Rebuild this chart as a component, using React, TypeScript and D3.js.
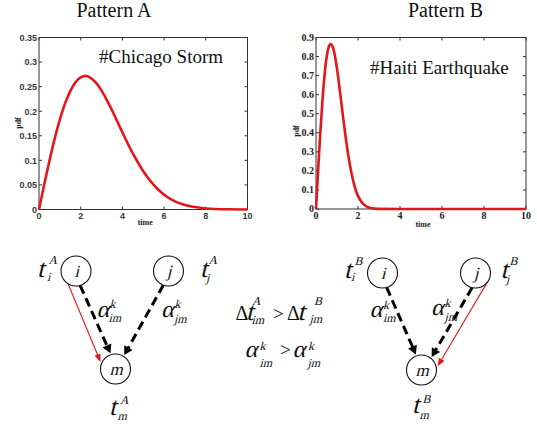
import React from "react";
import * as d3 from "d3";

// ---- Data ----
const titles = ["Pattern A", "Pattern B"];
const events = ["#Chicago Storm", "#Haiti Earthquake"];

const timeA = [0, 0.25, 0.5, 0.75, 1, 1.25, 1.5, 1.75, 2, 2.25, 2.5, 2.75, 3, 3.5, 4, 4.5, 5, 5.5, 6, 6.5, 7, 7.5, 8, 9, 10];
const pdfA = [0, 0.051, 0.099, 0.144, 0.183, 0.216, 0.241, 0.259, 0.269, 0.272, 0.267, 0.257, 0.242, 0.202, 0.157, 0.114, 0.078, 0.05, 0.03, 0.017, 0.009, 0.005, 0.002, 0.0004, 0.0001];

const timeB = [0, 0.1, 0.2, 0.3, 0.4, 0.5, 0.6, 0.7, 0.8, 0.9, 1.0, 1.1, 1.2, 1.3, 1.4, 1.5, 1.6, 1.7, 1.8, 1.9, 2.0, 2.2, 2.4, 2.6, 2.8, 3.0, 4, 10];
const pdfB = [0, 0.202, 0.392, 0.559, 0.694, 0.791, 0.848, 0.866, 0.85, 0.804, 0.736, 0.653, 0.564, 0.473, 0.387, 0.308, 0.24, 0.182, 0.135, 0.097, 0.069, 0.032, 0.014, 0.005, 0.002, 0.0006, 0, 0];

const xTicks = [0, 2, 4, 6, 8, 10];
const yTicksA = [0, 0.05, 0.1, 0.15, 0.2, 0.25, 0.3, 0.35];
const yTicksB = [0, 0.1, 0.2, 0.3, 0.4, 0.5, 0.6, 0.7, 0.8, 0.9];

// ---- Layout ----
const W = 537, H = 426;
const SERIF = "'Liberation Serif', 'Times New Roman', serif";
const SANS = "'Liberation Sans', Arial, sans-serif";
const RED = "#e4161b";

type PlotCfg = {
  x0: number; x1: number; y0: number; y1: number;
  ymax: number; yTicks: number[]; t: number[]; v: number[];
  tickFont: string; tickSize: number; tickFill: string;
  title: string; titleX: number; event: string; eventX: number; eventY: number;
  timeY: number; pdfX: number; pdfY: number; yFmt: (d: number) => string;
};

function Plot({ c }: { c: PlotCfg }) {
  const x = d3.scaleLinear().domain([0, 10]).range([c.x0, c.x1]);
  const y = d3.scaleLinear().domain([0, c.ymax]).range([c.y1, c.y0]);
  const line = d3.line<number>().x((_, i) => x(c.t[i])).y((d) => y(d)).curve(d3.curveMonotoneX);
  const tl = 3;
  return (
    <g>
      <text x={c.titleX} y={17} textAnchor="middle" fontFamily={SERIF} fontSize={20} fill="#111">{c.title}</text>
      <rect x={c.x0} y={c.y0} width={c.x1 - c.x0} height={c.y1 - c.y0} fill="#fff" stroke="#333" strokeWidth={1} />
      {xTicks.map((t) => (
        <g key={"x" + t}>
          <line x1={x(t)} x2={x(t)} y1={c.y1} y2={c.y1 - tl} stroke="#333" />
          <line x1={x(t)} x2={x(t)} y1={c.y0} y2={c.y0 + tl} stroke="#333" />
          <text x={x(t)} y={c.y1 + 9.5} textAnchor="middle" fontFamily={c.tickFont} fontWeight="bold" fontSize={c.tickSize} fill={c.tickFill}>{t}</text>
        </g>
      ))}
      {c.yTicks.map((t) => (
        <g key={"y" + t}>
          <line x1={c.x0} x2={c.x0 + tl} y1={y(t)} y2={y(t)} stroke="#333" />
          <line x1={c.x1} x2={c.x1 - tl} y1={y(t)} y2={y(t)} stroke="#333" />
          <text x={c.x0 - 2} y={y(t) + 3.3} textAnchor="end" fontFamily={c.tickFont} fontWeight="bold" fontSize={c.tickSize} fill={c.tickFill}>{c.yFmt(t)}</text>
        </g>
      ))}
      <path d={line(c.v) || ""} fill="none" stroke={RED} strokeWidth={2.6} strokeLinejoin="round" />
      <text x={c.eventX} y={c.eventY} fontFamily={SERIF} fontSize={19} fill="#111">{c.event}</text>
      <text x={(c.x0 + c.x1) / 2 + 2} y={c.timeY} textAnchor="middle" fontFamily={SERIF} fontWeight="bold" fontSize={8} fill="#222">time</text>
      <text transform={`translate(${c.pdfX},${c.pdfY}) rotate(-90)`} textAnchor="middle" fontFamily={SERIF} fontWeight="bold" fontSize={8} fill="#222">pdf</text>
    </g>
  );
}

const fmt = (d: number) => (d === 0 ? "0" : String(+d.toFixed(2)));

// italic serif drawn by slanting the regular serif face
function It({ x, y, s, size, anchor }: { x: number; y: number; s: string; size: number; anchor?: string }) {
  return (
    <text transform={`translate(${x},${y}) skewX(-14)`} textAnchor={anchor || "start"} fontFamily={SERIF} fontSize={size} fill="#111">{s}</text>
  );
}

type Piece = { x: number; y: number; s: string; size: number; upright?: boolean };
function Pieces({ p }: { p: Piece[] }) {
  return (
    <g>
      {p.map((q, i) =>
        q.upright ? (
          <text key={i} x={q.x} y={q.y} fontFamily={SERIF} fontSize={q.size} fill="#111">{q.s}</text>
        ) : (
          <It key={i} x={q.x} y={q.y} s={q.s} size={q.size} />
        )
      )}
    </g>
  );
}

// main glyph at (x,y); sup at (sx,sy); sub at (bx,by) — absolute layout positions
function term(main: string, x: number, y: number, sup: string, sx: number, sy: number, sub: string, bx: number, by: number, size = 26): Piece[] {
  return [
    { x, y, s: main, size },
    { x: sx, y: sy, s: sup, size: 12 },
    { x: bx, y: by, s: sub, size: 12 },
  ];
}

type Node = { id: string; x: number; y: number };
type Edge = { a: Node; b: Node; sa: number; ea: number; kind: "red" | "dash" };

function Arrow({ e }: { e: Edge }) {
  const r0 = 15, r1 = 16.5;
  const sx = e.a.x + r0 * Math.cos((e.sa * Math.PI) / 180);
  const sy = e.a.y + r0 * Math.sin((e.sa * Math.PI) / 180);
  const ex = e.b.x + r1 * Math.cos((e.ea * Math.PI) / 180);
  const ey = e.b.y + r1 * Math.sin((e.ea * Math.PI) / 180);
  const dx = ex - sx, dy = ey - sy;
  const len = Math.hypot(dx, dy);
  const ux = dx / len, uy = dy / len;
  const hl = e.kind === "red" ? 8 : 8.5;
  const hw = e.kind === "red" ? 3.2 : 4.8;
  const bx = ex - ux * hl, by = ey - uy * hl;
  const pts = `${ex},${ey} ${bx - uy * hw},${by + ux * hw} ${bx + uy * hw},${by - ux * hw}`;
  const color = e.kind === "red" ? RED : "#000";
  return (
    <g>
      <line x1={sx} y1={sy} x2={bx + ux * 1} y2={by + uy * 1} stroke={color}
        strokeWidth={e.kind === "red" ? 1.1 : 3} strokeDasharray={e.kind === "red" ? undefined : "9,5"} />
      <polygon points={pts} fill={color} />
    </g>
  );
}

function Circle({ n, label }: { n: Node; label: string }) {
  return (
    <g>
      <circle cx={n.x} cy={n.y} r={15} fill="#fff" stroke="#111" strokeWidth={1.1} />
      <It x={n.x + 0.5} y={n.y + 5.5} s={label} size={17} anchor="middle" />
    </g>
  );
}

export default function App() {
  const cfgA: PlotCfg = {
    x0: 39, x1: 247.5, y0: 37.5, y1: 209.5, ymax: 0.35, yTicks: yTicksA, t: timeA, v: pdfA,
    tickFont: SANS, tickSize: 9, tickFill: "#3a3a3a", title: titles[0], titleX: 114,
    event: events[0], eventX: 99, eventY: 62.5, timeY: 225, pdfX: 21, pdfY: 123, yFmt: fmt,
  };
  const cfgB: PlotCfg = {
    x0: 316, x1: 526, y0: 37.5, y1: 209, ymax: 0.9, yTicks: yTicksB, t: timeB, v: pdfB,
    tickFont: SERIF, tickSize: 10, tickFill: "#222", title: titles[1], titleX: 445.5,
    event: events[1], eventX: 370, eventY: 74, timeY: 227, pdfX: 298.5, pdfY: 131, yFmt: fmt,
  };

  const iA: Node = { id: "i", x: 76, y: 271 };
  const jA: Node = { id: "j", x: 168.5, y: 271 };
  const mA: Node = { id: "m", x: 115.5, y: 369 };
  const iB: Node = { id: "i", x: 382.5, y: 273 };
  const jB: Node = { id: "j", x: 475.5, y: 273 };
  const mB: Node = { id: "m", x: 421.5, y: 370 };

  const edges: Edge[] = [
    { a: iA, b: mA, sa: 122, ea: 205, kind: "red" },
    { a: iA, b: mA, sa: 74, ea: 252, kind: "dash" },
    { a: jA, b: mA, sa: 110, ea: 302, kind: "dash" },
    { a: iB, b: mB, sa: 74, ea: 250, kind: "dash" },
    { a: jB, b: mB, sa: 103, ea: 308, kind: "dash" },
    { a: jB, b: mB, sa: 22, ea: 347, kind: "red" },
  ];

  const pieces: Piece[] = [
    // Pattern A labels
    ...term("t", 37, 277, "A", 48.5, 263.5, "i", 47, 281),
    ...term("t", 200, 277, "A", 208.5, 263.5, "j", 206, 282),
    ...term("t", 109, 415, "A", 120, 404, "m", 117.5, 420),
    ...term("α", 96.5, 317, "k", 109.5, 308, "im", 108.5, 322, 24),
    ...term("α", 161, 317, "k", 174.5, 308, "jm", 174, 323, 24),
    // Pattern B labels
    ...term("t", 344, 278, "B", 354.5, 265, "i", 351, 281),
    ...term("t", 500.5, 278, "B", 509.5, 265, "j", 506, 283),
    ...term("t", 412, 413, "B", 422.5, 403, "m", 419.5, 418.5),
    ...term("α", 369.5, 317, "k", 383, 309, "im", 383, 322, 24),
    ...term("α", 431, 315, "k", 444.5, 307, "jm", 444.5, 321, 24),
    // middle inequalities
    { x: 235.5, y: 320, s: "Δ", size: 20, upright: true },
    ...term("t", 246, 320, "A", 252, 305, "im", 251.5, 324),
    { x: 273, y: 320, s: ">", size: 19, upright: true },
    { x: 287, y: 320, s: "Δ", size: 20, upright: true },
    ...term("t", 297.5, 320, "B", 314, 305, "jm", 309.5, 323),
    ...term("α", 244.5, 356.5, "k", 259.5, 350, "im", 259.5, 366.5, 24),
    { x: 280, y: 356, s: ">", size: 19, upright: true },
    ...term("α", 292.5, 356.5, "k", 308, 350, "jm", 307.5, 366.5, 24),
  ];

  return (
    <svg width={W} height={H} style={{ position: "absolute", left: 0, top: 0, background: "#fff" }}>
      <rect width={W} height={H} fill="#fff" />
      <Plot c={cfgA} />
      <Plot c={cfgB} />
      {edges.map((e, i) => <Arrow key={i} e={e} />)}
      <Circle n={iA} label="i" />
      <Circle n={jA} label="j" />
      <Circle n={mA} label="m" />
      <Circle n={iB} label="i" />
      <Circle n={jB} label="j" />
      <Circle n={mB} label="m" />
      <Pieces p={pieces} />
    </svg>
  );
}
